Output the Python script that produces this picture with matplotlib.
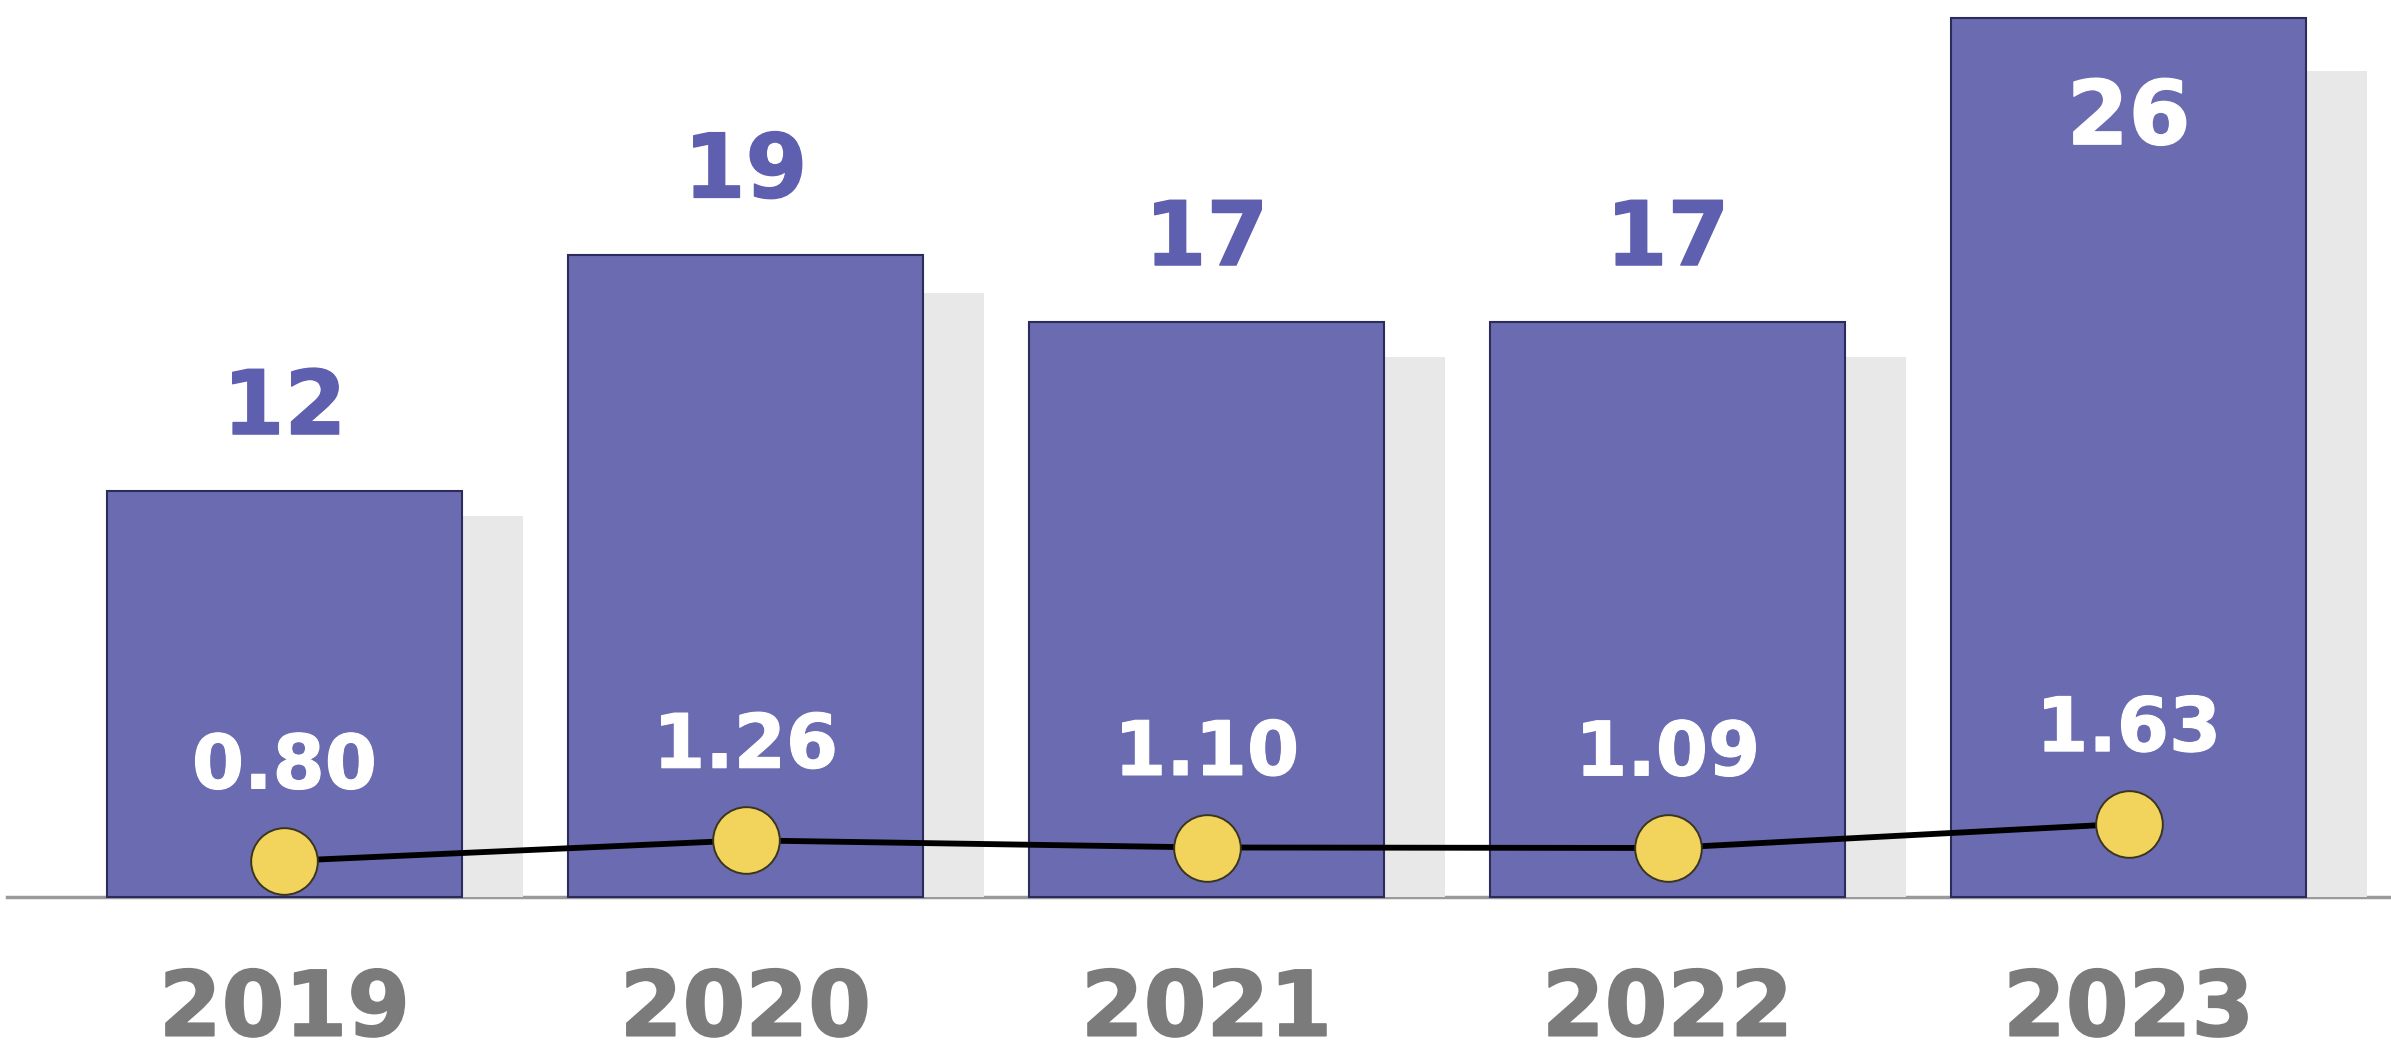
import numpy as np
import matplotlib.pyplot as plt
import matplotlib.patheffects as pe

years      = ['2019', '2020', '2021', '2022', '2023']
counts     = [12, 19, 17, 17, 26]
ratios     = [0.80, 1.26, 1.10, 1.09, 1.63]

BAR_COLOR  = '#6b6bb1'
EDGE_COLOR = '#2c2c5c'
SHADOW     = '#e8e8e8'
LABEL_PURP = '#5e5fae'
YEAR_GRAY  = '#7b7b7b'
DOT_COLOR  = '#f2d35c'
FONT       = 'DejaVu Sans'


def fat(color, w=1.0):
    # thicken DejaVu bold slightly to look like the heavy source font
    return [pe.withStroke(linewidth=w, foreground=color)]


x = np.arange(len(years))
counts_a = np.array(counts, dtype=float)

fig = plt.figure(figsize=(23.91, 10.55), dpi=100)
ax = fig.add_axes([0, 0, 1, 1])
ax.set_xlim(-0.617, 4.569)
ax.set_ylim(-4.67, 26.54)
ax.axis('off')

# soft grey shadow bars behind the main ones
ax.bar(x + 0.132, counts_a * 0.94, width=0.77, color=SHADOW, zorder=1)
ax.bar(x, counts_a, width=0.77, color=BAR_COLOR, edgecolor=EDGE_COLOR,
       linewidth=1.5, zorder=2)
ax.axhline(0, xmin=0.003, xmax=1, color='#9a9a9a', lw=2.5, zorder=0)

top = max(counts)
for xi, v in zip(x, counts):
    if v == top:
        ax.annotate(f'{v}', (xi, v), xytext=(0, -73), textcoords='offset points',
                    ha='center', va='center', fontsize=64, fontweight='bold',
                    color='white', family=FONT, zorder=5,
                    path_effects=fat('white'))
    else:
        ax.annotate(f'{v}', (xi, v), xytext=(0, 59), textcoords='offset points',
                    ha='center', va='center', fontsize=64, fontweight='bold',
                    color=LABEL_PURP, family=FONT, zorder=5,
                    path_effects=fat(LABEL_PURP))

for xi, yr in zip(x, years):
    ax.text(xi, -3.36, yr, ha='center', va='center', fontsize=65,
            fontweight='bold', color=YEAR_GRAY, family=FONT,
            path_effects=fat(YEAR_GRAY, 1.2))

# ratio line on its own scale, same baseline
ax2 = ax.twinx()
ax2.set_ylim(-158 / 45, 897 / 45)
ax2.axis('off')
ax2.plot(x, ratios, color='black', lw=4.2, zorder=3)
ax2.scatter(x, ratios, s=48 ** 2, color=DOT_COLOR, edgecolor='#3a3520',
            linewidth=1.4, zorder=4)
for xi, r in zip(x, ratios):
    ax2.annotate(f'{r:.2f}', (xi, r), xytext=(0, 67), textcoords='offset points',
                 ha='center', va='center', fontsize=54, fontweight='bold',
                 color='white', family=FONT, zorder=5,
                 path_effects=fat('white', 0.8))

plt.savefig('out.png', dpi=100, facecolor='white')
